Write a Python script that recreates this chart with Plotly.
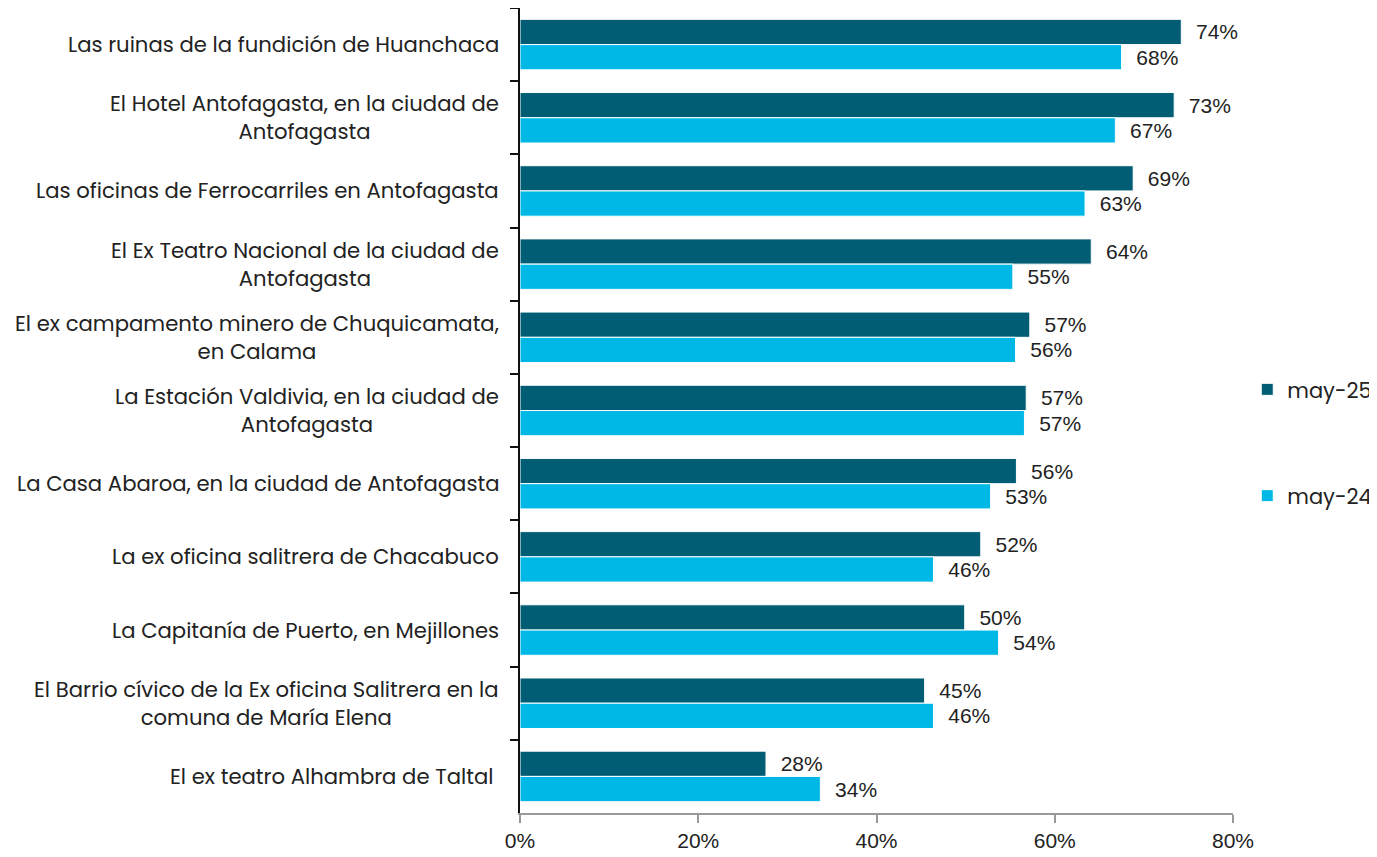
import plotly.graph_objects as go

categories = [
    "Las ruinas de la fundición de Huanchaca",
    "El Hotel Antofagasta, en la ciudad de<br>Antofagasta",
    "Las oficinas de Ferrocarriles en Antofagasta",
    "El Ex Teatro Nacional de la ciudad de<br>Antofagasta",
    "El ex campamento minero de Chuquicamata,<br>en Calama",
    "La Estación Valdivia, en la ciudad de<br>Antofagasta",
    "La Casa Abaroa, en la ciudad de Antofagasta",
    "La ex oficina salitrera de Chacabuco",
    "La Capitanía de Puerto, en Mejillones",
    "El Barrio cívico de la Ex oficina Salitrera en la<br>comuna de María Elena",
    "El ex teatro Alhambra de Taltal ",
]
may25 = [74.2, 73.4, 68.8, 64.1, 57.2, 56.8, 55.7, 51.7, 49.9, 45.4, 27.6]
may24 = [67.5, 66.8, 63.4, 55.3, 55.6, 56.6, 52.8, 46.4, 53.7, 46.4, 33.7]
series_names = ["may-25", "may-24"]
tick_vals = [0, 20, 40, 60, 80]
tick_text = ["0%", "20%", "40%", "60%", "80%"]

FONT = "Poppins, Open Sans, sans-serif"
NUMFONT = "Liberation Sans, Arial, sans-serif"
TXT = "#222222"
colors = ["#005D74", "#00B8E6"]
NB = "\u00a0"

fig = go.Figure()
for i, (name, vals) in enumerate(zip(series_names, [may25, may24])):
    fig.add_trace(go.Bar(
        y=categories, x=vals, name=name, orientation="h",
        marker=dict(color=colors[i], line=dict(color="white", width=1)),
        text=[f"{NB}{NB}{int(v + 0.5)}%" for v in vals], textposition="outside",
        textfont=dict(size=21, color=TXT, family=NUMFONT),
        cliponaxis=False, legendgroup=name,
    ))

for c in categories:
    fig.add_annotation(
        x=-0.027, xref="paper", y=c, yref="y", text=c, showarrow=False,
        xanchor="right", yanchor="middle", align="center",
        font=dict(size=21.2, color=TXT, family=FONT),
    )

fig.update_layout(
    width=1377, height=857,
    margin=dict(l=512, r=152, t=0, b=52, autoexpand=False),
    plot_bgcolor="white", paper_bgcolor="white",
    barmode="group", bargap=0.31, bargroupgap=0.0,
    font=dict(family=FONT, size=21, color=TXT),
    showlegend=True,
    legend=dict(x=1.02, xanchor="left", y=0.46, yanchor="middle",
                tracegroupgap=76, font=dict(size=21, color=TXT, family=FONT),
                traceorder="grouped"),
)
fig.update_xaxes(range=[0, 80], tickvals=tick_vals, ticktext=tick_text,
                 showgrid=False, zeroline=False, showline=True,
                 linecolor="#999999", linewidth=1.5,
                 ticks="outside", ticklen=8, tickcolor="#999999", tickwidth=1.5,
                 tickfont=dict(size=21, color=TXT, family=NUMFONT))
fig.update_yaxes(autorange="reversed", showticklabels=False, showgrid=False,
                 showline=True, linecolor="#111111", linewidth=1.5,
                 ticks="outside", tickson="boundaries", ticklen=8,
                 tickcolor="#111111", tickwidth=1.5)

fig.write_html("out.html")
